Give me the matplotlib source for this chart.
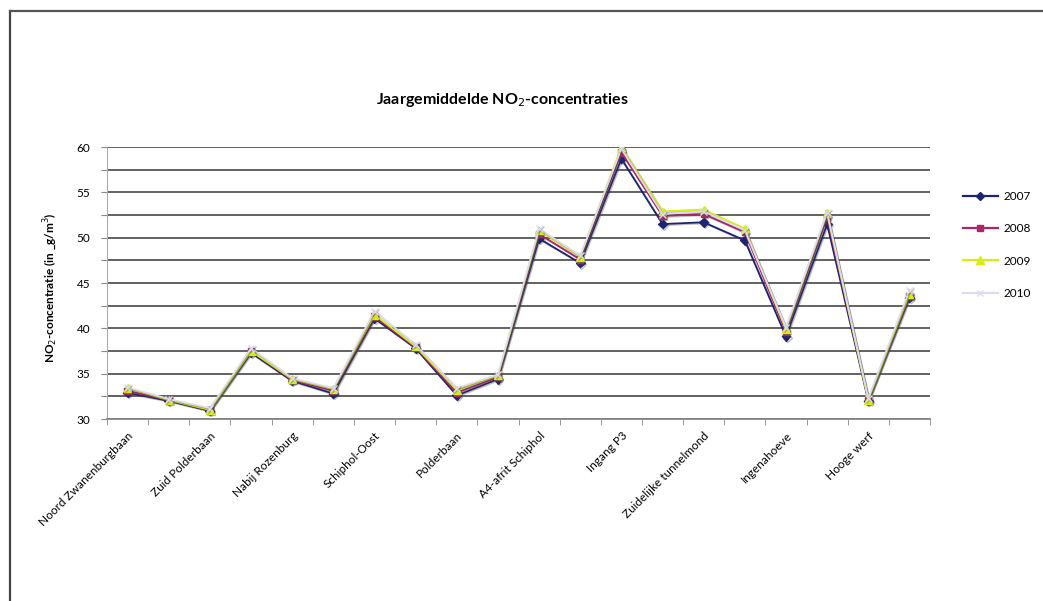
import matplotlib
matplotlib.use("Agg")
import matplotlib.pyplot as plt
from matplotlib import patheffects as pe
from matplotlib.lines import Line2D

plt.rcParams['font.family'] = ['Lato', 'DejaVu Sans']

# Measurement locations (every second one carries a printed label)
locations = ["Noord Zwanenburgbaan", "Zuid Polderbaan", "Nabij Rozenburg",
             "Schiphol-Oost", "Polderbaan", "A4-afrit Schiphol", "Ingang P3",
             "Zuidelijke tunnelmond", "Ingenahoeve", "Hooge werf"]
n_points = 20

no2_2007 = [32.9, 32.0, 30.9, 37.3, 34.2, 32.8, 41.1, 37.8, 32.6, 34.4,
            49.9, 47.2, 58.7, 51.5, 51.7, 49.7, 39.1, 51.5, 32.0, 43.4]
no2_2008 = [33.1, 32.1, 31.0, 37.5, 34.3, 33.1, 41.3, 37.9, 32.9, 34.6,
            50.4, 47.6, 59.4, 52.4, 52.6, 50.6, 39.6, 52.3, 32.1, 43.6]
no2_2009 = [33.4, 32.1, 31.0, 37.5, 34.4, 33.3, 41.5, 38.0, 33.2, 34.8,
            50.8, 47.9, 60.0, 52.9, 53.1, 51.0, 39.9, 52.7, 32.1, 43.8]
no2_2010 = [33.5, 32.2, 31.2, 37.8, 34.5, 33.4, 41.9, 38.2, 33.4, 34.9,
            51.0, 48.0, 59.8, 52.6, 52.9, 50.8, 40.1, 52.8, 32.3, 44.2]

series = [
    ("2007", no2_2007, "#1c2473", "D", 4.5),
    ("2008", no2_2008, "#b02468", "s", 4.5),
    ("2009", no2_2009, "#d6ee10", "^", 5.5),
    ("2010", no2_2010, "#dcdcf0", "x", 5),
]

fig = plt.figure(figsize=(10.43, 6.01), dpi=100)
fig.patch.set_facecolor("white")

# outer chart frame (left and top edges visible)
fig.add_artist(Line2D([10 / 1043, 10 / 1043], [1 - 11 / 601, 0.0], color="#444444", lw=1.6))
fig.add_artist(Line2D([10 / 1043, 1.0], [1 - 11 / 601, 1 - 11 / 601], color="#555555", lw=1.6))

ax = fig.add_axes([107 / 1043, 1 - 419 / 601, (930 - 107) / 1043, (419 - 147) / 601])

x = list(range(n_points))
shadow = [pe.SimpleLineShadow(offset=(0.8, -0.8), shadow_color="#444444", alpha=0.35), pe.Normal()]
for label, vals, color, marker, ms in series:
    ax.plot(x, vals, color=color, lw=1.3, marker=marker, markersize=ms,
            markerfacecolor=color, markeredgecolor=color, label=label,
            path_effects=shadow, zorder=3)

ax.set_xlim(-0.4, 19.43)
ax.set_ylim(30, 60)

# horizontal gridlines every 2.5
ax.set_yticks([30 + 2.5 * i for i in range(13)])
ax.set_yticklabels([f"{30 + 2.5 * i:g}" if i % 2 == 0 else "" for i in range(13)])
ax.yaxis.grid(True, color="#555555", lw=1.3)
ax.set_axisbelow(True)

ax.set_xticks(range(0, n_points, 2))
ax.set_xticklabels(locations, rotation=45, ha="right", rotation_mode="anchor", fontsize=8.5)
ax.set_xticks([i + 0.5 for i in range(-1, n_points)], minor=True)
ax.tick_params(axis="x", which="major", length=0, pad=8)
ax.tick_params(axis="x", which="minor", length=4, color="#888888")
ax.tick_params(axis="y", length=4, color="#888888", labelsize=8.5, pad=8)

for s in ["top", "right"]:
    ax.spines[s].set_visible(False)
ax.spines["left"].set_color("#aaaaaa")
ax.spines["bottom"].set_color("#888888")
ax.spines["bottom"].set_linewidth(1.3)

fig.text(0.482, 1 - 100 / 601, "Jaargemiddelde NO$_2$-concentraties", ha="center", va="center",
         fontsize=11.5, fontweight="bold")
fig.text(50 / 1043, 1 - 288 / 601, "NO$_2$-concentratie (in _g/m$^3$)", rotation=90,
         ha="center", va="center", fontsize=8.5, fontweight="bold")

handles = [Line2D([0], [0], color=c, lw=1.6, marker=m, markersize=ms,
                  markerfacecolor=c, markeredgecolor=c) for _, _, c, m, ms in series]
fig.legend(handles, [s[0] for s in series], loc="center left",
           bbox_to_anchor=(952 / 1043, 1 - 245 / 601), frameon=False, fontsize=8.5,
           handlelength=3, labelspacing=1.8, handletextpad=0.5)

fig.savefig("out.png", dpi=100)
